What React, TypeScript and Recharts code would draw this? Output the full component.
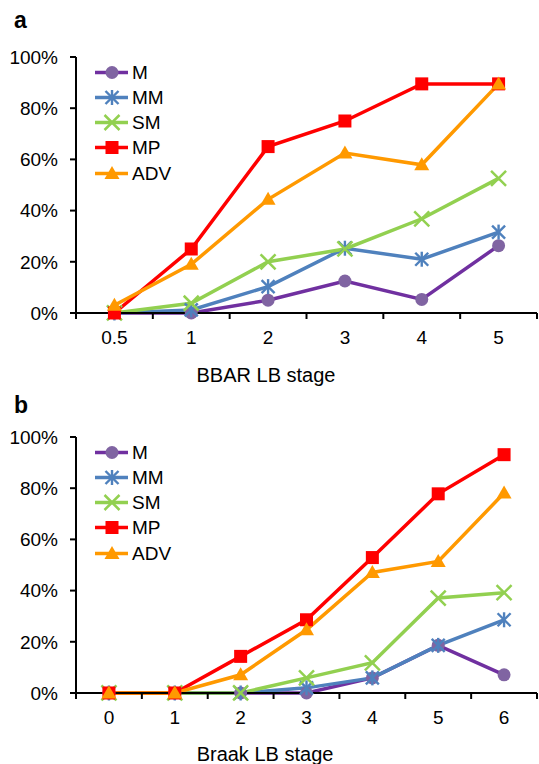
import React from 'react';
import { LineChart, Line, XAxis, YAxis, Legend } from 'recharts';

const FONT = '"Liberation Sans", Arial, Helvetica, sans-serif';

// Panel a: BBAR LB stage
const catsA = ['0.5', '1', '2', '3', '4', '5'];
const mA = [0, 0, 5, 12.5, 5.3, 26.3];
const mmA = [0, 1.2, 10.3, 25.3, 21, 31.6];
const smA = [0, 3.8, 20, 25, 36.8, 52.6];
const mpA = [0, 25, 65, 75, 89.5, 89.5];
const advA = [3, 19, 44.4, 62.5, 57.9, 89.5];

// Panel b: Braak LB stage
const catsB = ['0', '1', '2', '3', '4', '5', '6'];
const mB = [0, 0, 0, 0, 5.9, 18.6, 7.1];
const mmB = [0, 0, 0, 2, 5.9, 18.6, 28.6];
const smB = [0, 0, 0, 5.9, 11.8, 37.1, 39.2];
const mpB = [0, 0, 14.3, 28.6, 52.9, 77.8, 93.1];
const advB = [0, 0, 7.1, 24.7, 47.1, 51.4, 78.1];

const yTicks = [0, 20, 40, 60, 80, 100];

type Shape = 'circle' | 'star' | 'x' | 'square' | 'triangle';
const SERIES: { key: string; line: string; marker: string; shape: Shape }[] = [
  { key: 'M', line: '#7030A0', marker: '#8064A2', shape: 'circle' },
  { key: 'MM', line: '#4F81BD', marker: '#4F81BD', shape: 'star' },
  { key: 'SM', line: '#92D050', marker: '#92D050', shape: 'x' },
  { key: 'MP', line: '#FF0000', marker: '#FF0000', shape: 'square' },
  { key: 'ADV', line: '#FF9900', marker: '#FF9900', shape: 'triangle' },
];

function Marker({ cx, cy, shape, color }: { cx: number; cy: number; shape: Shape; color: string }) {
  if (cx == null || cy == null || isNaN(cx) || isNaN(cy)) return null;
  switch (shape) {
    case 'circle':
      return <circle cx={cx} cy={cy} r={6.5} fill={color} />;
    case 'square':
      return <rect x={cx - 6.5} y={cy - 6.5} width={13} height={13} fill={color} />;
    case 'triangle':
      return <polygon points={`${cx},${cy - 7.5} ${cx + 7.5},${cy + 5.5} ${cx - 7.5},${cy + 5.5}`} fill={color} />;
    case 'x': {
      const s = 7.5;
      return (
        <g stroke={color} strokeWidth={2.5}>
          <line x1={cx - s} y1={cy - s} x2={cx + s} y2={cy + s} />
          <line x1={cx - s} y1={cy + s} x2={cx + s} y2={cy - s} />
        </g>
      );
    }
    case 'star': {
      const s = 6.5;
      return (
        <g stroke={color} strokeWidth={2.4}>
          <line x1={cx - s} y1={cy - s} x2={cx + s} y2={cy + s} />
          <line x1={cx - s} y1={cy + s} x2={cx + s} y2={cy - s} />
          <line x1={cx} y1={cy - s - 1} x2={cx} y2={cy + s + 1} />
        </g>
      );
    }
  }
  return null;
}

const LegendContent = () => (
  <div style={{ fontFamily: FONT, fontSize: 19, color: '#000' }}>
    {SERIES.map((s) => (
      <div key={s.key} style={{ height: 25.25, display: 'flex', alignItems: 'center' }}>
        <svg width={37} height={25} style={{ display: 'block' }}>
          <line x1={0} y1={12.5} x2={33} y2={12.5} stroke={s.line} strokeWidth={3.5} />
          <Marker cx={17} cy={12.5} shape={s.shape} color={s.marker} />
        </svg>
        <span style={{ lineHeight: '25px' }}>{s.key}</span>
      </div>
    ))}
  </div>
);

function Panel({
  cats,
  values,
  height,
  bottom,
}: {
  cats: string[];
  values: number[][];
  height: number;
  bottom: number;
}) {
  const data = cats.map((c, i) => {
    const row: Record<string, number | string> = { x: i + 0.5, cat: c };
    SERIES.forEach((s, k) => {
      row[s.key] = values[k][i];
    });
    return row;
  });
  const n = cats.length;
  const gridTicks = Array.from({ length: n + 1 }, (_, i) => i);
  const catTicks = cats.map((_, i) => i + 0.5);
  const tickStyle = { fontFamily: FONT, fontSize: 19, fill: '#000' };

  return (
    <LineChart width={539} height={height} data={data} margin={{ top: 57, right: 2, left: 0, bottom }}>
      <XAxis
        xAxisId="grid"
        type="number"
        dataKey="x"
        domain={[0, n]}
        ticks={gridTicks}
        height={0.01}
        tickSize={6}
        tickFormatter={() => ''}
        stroke="#000"
        strokeWidth={2}
        axisLine
        tickLine
        allowDecimals={false}
      />
      <XAxis
        xAxisId="cat"
        type="number"
        dataKey="x"
        domain={[0, n]}
        ticks={catTicks}
        height={0.01}
        tickSize={6}
        tickMargin={12}
        axisLine={false}
        tickLine={false}
        tick={tickStyle}
        interval={0}
        tickFormatter={(v: number) => cats[Math.round(v - 0.5)] ?? ''}
      />
      <YAxis
        type="number"
        domain={[0, 100]}
        ticks={yTicks}
        width={76}
        tickSize={6}
        tickMargin={12}
        stroke="#000"
        strokeWidth={2}
        axisLine
        tickLine
        tick={tickStyle}
        interval={0}
        tickFormatter={(v: number) => `${v}%`}
      />
      <Legend
        layout="vertical"
        align="center"
        verticalAlign="middle"
        content={LegendContent}
        wrapperStyle={{ left: 95, top: 59.5, width: 120, height: 130 }}
      />
      {SERIES.map((s) => (
        <Line
          key={s.key}
          xAxisId="grid"
          dataKey={s.key}
          stroke={s.line}
          strokeWidth={3.5}
          isAnimationActive={false}
          activeDot={false}
          dot={(p: any) => (
            <Marker key={`${s.key}-${p.index}`} cx={p.cx} cy={p.cy} shape={s.shape} color={s.marker} />
          )}
        />
      ))}
    </LineChart>
  );
}

export default function App() {
  return (
    <div
      style={{
        position: 'absolute',
        left: 0,
        top: 0,
        width: 539,
        height: 764,
        background: '#fff',
        overflow: 'hidden',
        fontFamily: FONT,
      }}
    >
      <div style={{ position: 'absolute', left: 0, top: 0 }}>
        <Panel cats={catsA} values={[mA, mmA, smA, mpA, advA]} height={380} bottom={67} />
      </div>
      <div style={{ position: 'absolute', left: 0, top: 380 }}>
        <Panel cats={catsB} values={[mB, mmB, smB, mpB, advB]} height={384} bottom={71} />
      </div>
      <svg
        width={539}
        height={764}
        style={{ position: 'absolute', left: 0, top: 0, pointerEvents: 'none' }}
      >
        <text x={14} y={28} fontFamily={FONT} fontSize={23} fontWeight="bold" fill="#000">
          a
        </text>
        <text x={14} y={413} fontFamily={FONT} fontSize={23} fontWeight="bold" fill="#000">
          b
        </text>
        <text x={266} y={382} fontFamily={FONT} fontSize={20} textAnchor="middle" fill="#000">
          BBAR LB stage
        </text>
        <text x={265} y={760.5} fontFamily={FONT} fontSize={20} textAnchor="middle" fill="#000">
          Braak LB stage
        </text>
      </svg>
    </div>
  );
}
